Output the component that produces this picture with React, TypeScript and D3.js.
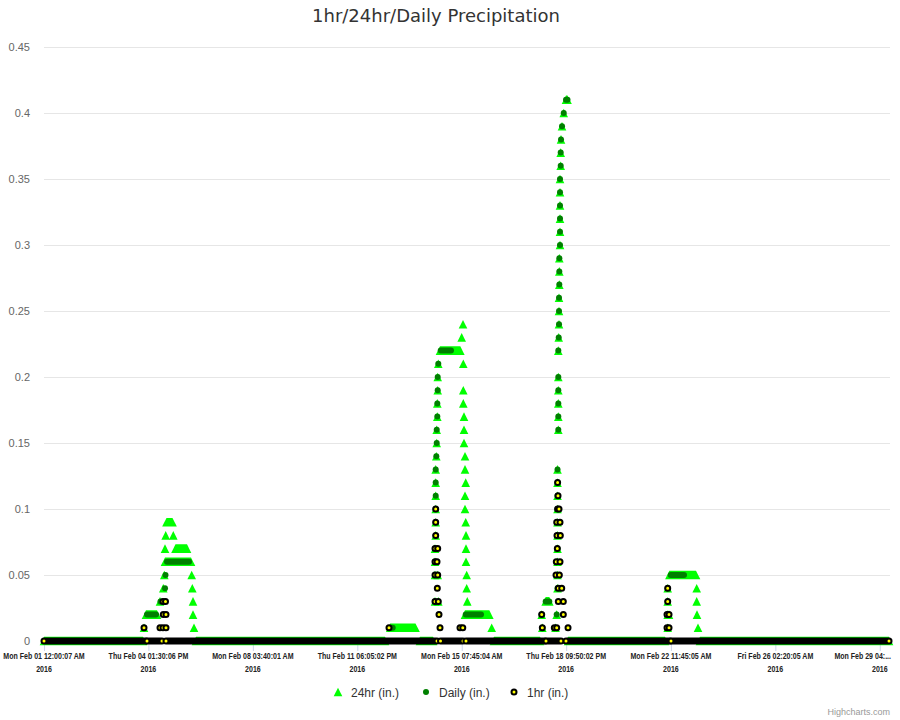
import React from 'react';
import * as d3 from 'd3';

// ---------- data ----------
const titleText = '1hr/24hr/Daily Precipitation';
const tickLabels = [
  'Mon Feb 01 12:00:07 AM',
  'Thu Feb 04 01:30:06 PM',
  'Mon Feb 08 03:40:01 AM',
  'Thu Feb 11 06:05:02 PM',
  'Mon Feb 15 07:45:04 AM',
  'Thu Feb 18 09:50:02 PM',
  'Mon Feb 22 11:45:05 AM',
  'Fri Feb 26 02:20:05 AM',
  'Mon Feb 29 04:...',
];
const tickYear = '2016';
// tick positions, in days since Feb 01 00:00
const tickDays = [0, 3.58, 7.16, 10.74, 14.32, 17.9, 21.49, 25.07, 28.65];
const yTicks = [0, 0.05, 0.1, 0.15, 0.2, 0.25, 0.3, 0.35, 0.4, 0.45];
const yTickLabels = ['0', '0.05', '0.1', '0.15', '0.2', '0.25', '0.3', '0.35', '0.4', '0.45'];
const seriesNames = ['24hr (in.)', 'Daily (in.)', '1hr (in.)'];

// runs of consecutive readings: [startDay, endDay, inches]
type Run = [number, number, number];

const hr24Runs: Run[] = [
  [0, 3.394, 0],
  [3.428, 3.428, 0.01],
  [3.497, 3.874, 0.02],
  [3.976, 3.976, 0.03],
  [4.089, 4.089, 0.04],
  [4.124, 4.124, 0.05],
  [4.148, 5.039, 0.06],
  [4.148, 4.148, 0.07],
  [4.172, 4.172, 0.08],
  [4.199, 4.405, 0.09],
  [4.432, 4.432, 0.08],
  [4.508, 4.902, 0.07],
  [5.063, 5.063, 0.05],
  [5.084, 5.084, 0.04],
  [5.108, 5.108, 0.03],
  [5.108, 5.108, 0.02],
  [5.142, 5.142, 0.01],
  [5.21, 11.689, 0],
  [11.868, 12.735, 0.01],
  [12.889, 13.335, 0],
  [13.403, 13.403, 0.03],
  [13.403, 13.403, 0.05],
  [13.403, 13.403, 0.06],
  [13.403, 13.403, 0.07],
  [13.427, 13.427, 0.08],
  [13.427, 13.427, 0.09],
  [13.427, 13.427, 0.1],
  [13.427, 13.427, 0.11],
  [13.427, 13.427, 0.12],
  [13.427, 13.427, 0.13],
  [13.448, 13.448, 0.14],
  [13.462, 13.462, 0.15],
  [13.462, 13.462, 0.16],
  [13.482, 13.482, 0.17],
  [13.482, 13.482, 0.18],
  [13.496, 13.496, 0.19],
  [13.496, 13.496, 0.2],
  [13.496, 13.496, 0.05],
  [13.516, 13.516, 0.21],
  [13.516, 13.516, 0.03],
  [13.575, 14.271, 0.22],
  [14.318, 14.318, 0.23],
  [14.363, 14.363, 0.24],
  [14.373, 14.373, 0.21],
  [14.373, 14.373, 0.19],
  [14.373, 14.373, 0.18],
  [14.397, 14.397, 0.17],
  [14.397, 14.397, 0.16],
  [14.397, 14.397, 0.15],
  [14.432, 14.432, 0.14],
  [14.432, 14.432, 0.13],
  [14.456, 14.456, 0.12],
  [14.432, 14.432, 0.11],
  [14.432, 14.432, 0.1],
  [14.456, 14.456, 0.09],
  [14.466, 14.466, 0.08],
  [14.466, 14.466, 0.07],
  [14.466, 14.466, 0.06],
  [14.489, 14.489, 0.05],
  [14.489, 14.489, 0.04],
  [14.51, 14.51, 0.03],
  [14.432, 15.265, 0.02],
  [15.347, 15.347, 0.01],
  [15.426, 17.002, 0],
  [17.061, 17.061, 0.02],
  [17.082, 17.082, 0.01],
  [17.197, 17.321, 0.03],
  [17.534, 17.534, 0.01],
  [17.575, 17.575, 0.02],
  [17.603, 17.603, 0.04],
  [17.603, 17.603, 0.05],
  [17.603, 17.603, 0.06],
  [17.603, 17.603, 0.07],
  [17.603, 17.603, 0.08],
  [17.603, 17.603, 0.09],
  [17.603, 17.603, 0.1],
  [17.603, 17.603, 0.11],
  [17.603, 17.603, 0.12],
  [17.603, 17.603, 0.13],
  [17.63, 17.63, 0.16],
  [17.63, 17.63, 0.17],
  [17.63, 17.63, 0.18],
  [17.63, 17.63, 0.19],
  [17.63, 17.63, 0.2],
  [17.63, 17.63, 0.22],
  [17.644, 17.644, 0.23],
  [17.654, 17.654, 0.24],
  [17.654, 17.654, 0.25],
  [17.654, 17.654, 0.26],
  [17.665, 17.665, 0.27],
  [17.665, 17.665, 0.28],
  [17.665, 17.665, 0.29],
  [17.688, 17.688, 0.3],
  [17.688, 17.688, 0.31],
  [17.688, 17.688, 0.32],
  [17.688, 17.688, 0.33],
  [17.688, 17.688, 0.34],
  [17.688, 17.688, 0.35],
  [17.712, 17.712, 0.36],
  [17.712, 17.712, 0.37],
  [17.723, 17.723, 0.38],
  [17.757, 17.757, 0.39],
  [17.816, 17.816, 0.4],
  [17.894, 17.945, 0.41],
  [17.963, 21.288, 0],
  [21.38, 21.38, 0.01],
  [21.38, 21.38, 0.02],
  [21.425, 21.425, 0.02],
  [21.38, 21.38, 0.03],
  [21.38, 21.38, 0.04],
  [21.438, 22.35, 0.05],
  [22.374, 22.374, 0.04],
  [22.374, 22.374, 0.03],
  [22.384, 22.384, 0.02],
  [22.419, 22.419, 0.01],
  [22.487, 28.966, 0],
];

const dailyRuns: Run[] = [
  [0, 3.394, 0],
  [3.428, 3.428, 0.01],
  [3.531, 3.84, 0.02],
  [3.994, 3.994, 0.03],
  [4.148, 4.148, 0.04],
  [4.165, 4.165, 0.05],
  [4.216, 4.971, 0.06],
  [5.039, 11.826, 0],
  [11.885, 11.953, 0.01],
  [12.032, 13.335, 0],
  [13.403, 13.403, 0.03],
  [13.403, 13.403, 0.05],
  [13.403, 13.403, 0.06],
  [13.403, 13.403, 0.07],
  [13.427, 13.427, 0.08],
  [13.427, 13.427, 0.09],
  [13.427, 13.427, 0.1],
  [13.427, 13.427, 0.11],
  [13.427, 13.427, 0.12],
  [13.427, 13.427, 0.13],
  [13.448, 13.448, 0.14],
  [13.462, 13.462, 0.15],
  [13.462, 13.462, 0.16],
  [13.482, 13.482, 0.17],
  [13.482, 13.482, 0.18],
  [13.496, 13.496, 0.19],
  [13.496, 13.496, 0.2],
  [13.516, 13.516, 0.21],
  [13.599, 13.952, 0.22],
  [14.02, 14.26, 0],
  [14.318, 14.318, 0.01],
  [14.456, 14.98, 0.02],
  [15.151, 17.002, 0],
  [17.061, 17.061, 0.02],
  [17.082, 17.082, 0.01],
  [17.197, 17.321, 0.03],
  [17.575, 17.575, 0.02],
  [17.603, 17.603, 0.04],
  [17.603, 17.603, 0.05],
  [17.603, 17.603, 0.06],
  [17.603, 17.603, 0.07],
  [17.603, 17.603, 0.08],
  [17.603, 17.603, 0.09],
  [17.603, 17.603, 0.1],
  [17.603, 17.603, 0.11],
  [17.603, 17.603, 0.12],
  [17.603, 17.603, 0.13],
  [17.63, 17.63, 0.16],
  [17.63, 17.63, 0.17],
  [17.63, 17.63, 0.18],
  [17.63, 17.63, 0.19],
  [17.63, 17.63, 0.2],
  [17.63, 17.63, 0.22],
  [17.644, 17.644, 0.23],
  [17.654, 17.654, 0.24],
  [17.654, 17.654, 0.25],
  [17.654, 17.654, 0.26],
  [17.665, 17.665, 0.27],
  [17.665, 17.665, 0.28],
  [17.665, 17.665, 0.29],
  [17.688, 17.688, 0.3],
  [17.688, 17.688, 0.31],
  [17.688, 17.688, 0.32],
  [17.688, 17.688, 0.33],
  [17.688, 17.688, 0.34],
  [17.688, 17.688, 0.35],
  [17.712, 17.712, 0.36],
  [17.712, 17.712, 0.37],
  [17.723, 17.723, 0.38],
  [17.757, 17.757, 0.39],
  [17.816, 17.816, 0.4],
  [17.894, 17.945, 0.41],
  [17.963, 21.288, 0],
  [21.38, 21.38, 0.01],
  [21.38, 21.38, 0.02],
  [21.38, 21.38, 0.03],
  [21.38, 21.38, 0.04],
  [21.483, 21.939, 0.05],
  [22.076, 28.966, 0],
];

const hr1Runs: Run[] = [
  [0, 3.497, 0],
  [3.428, 3.428, 0.01],
  [3.531, 4.045, 0],
  [3.976, 3.976, 0.01],
  [4.079, 4.079, 0.01],
  [4.079, 4.079, 0.03],
  [4.089, 4.089, 0.02],
  [4.165, 4.165, 0.03],
  [4.182, 4.182, 0.01],
  [4.182, 4.182, 0.02],
  [4.182, 13.472, 0],
  [11.826, 11.826, 0.01],
  [13.403, 13.403, 0.03],
  [13.403, 13.403, 0.05],
  [13.403, 13.403, 0.06],
  [13.403, 13.403, 0.07],
  [13.427, 13.427, 0.08],
  [13.427, 13.427, 0.09],
  [13.427, 13.427, 0.1],
  [13.472, 13.472, 0.06],
  [13.482, 13.482, 0.04],
  [13.496, 13.496, 0.05],
  [13.496, 13.496, 0.07],
  [13.516, 13.516, 0.03],
  [13.54, 13.54, 0.02],
  [13.575, 13.575, 0.01],
  [13.592, 14.363, 0],
  [14.26, 14.26, 0.01],
  [14.355, 14.355, 0.01],
  [14.466, 17.174, 0],
  [17.061, 17.061, 0.02],
  [17.082, 17.082, 0.01],
  [17.209, 17.723, 0],
  [17.493, 17.493, 0.01],
  [17.551, 17.551, 0.05],
  [17.561, 17.561, 0.06],
  [17.575, 17.575, 0.01],
  [17.575, 17.575, 0.09],
  [17.585, 17.585, 0.08],
  [17.596, 17.596, 0.07],
  [17.606, 17.606, 0.1],
  [17.606, 17.606, 0.12],
  [17.62, 17.62, 0.11],
  [17.63, 17.63, 0.03],
  [17.63, 17.63, 0.04],
  [17.654, 17.654, 0.1],
  [17.665, 17.665, 0.05],
  [17.688, 17.688, 0.06],
  [17.688, 17.688, 0.09],
  [17.699, 17.699, 0.08],
  [17.747, 17.747, 0.04],
  [17.802, 17.802, 0.02],
  [17.802, 17.802, 0.03],
  [17.894, 21.459, 0],
  [17.963, 17.963, 0.01],
  [21.356, 21.356, 0.01],
  [21.356, 21.356, 0.02],
  [21.38, 21.38, 0.03],
  [21.38, 21.38, 0.04],
  [21.425, 21.425, 0.01],
  [21.425, 21.425, 0.02],
  [21.493, 28.966, 0],
];

// ---------- style ----------
const W = 900;
const H = 720;
const LIME = '#00ff00';
const DARK = '#008000';
const YELLOW = '#ffff00';
const SANS = "'Liberation Sans', Arial, Helvetica, sans-serif";
const TITLE_FONT = "'DejaVu Sans', Verdana, sans-serif";
const TRI = 4.3; // triangle half size
const DAILY_R = 3;
const HR1_R = 2.5;
const HR1_SW = 2;

const x = d3.scaleLinear().domain([0, 29]).range([44, 890]);
const y = d3.scaleLinear().domain([0, 0.45]).range([641, 47]);

function Tri({ cx, cy, cx2 }: { cx: number; cy: number; cx2?: number }) {
  const b = cx2 === undefined ? cx : cx2;
  const pts = [
    [cx, cy - TRI],
    [b, cy - TRI],
    [b + TRI, cy + TRI],
    [cx - TRI, cy + TRI],
  ];
  return <polygon points={pts.map((p) => p.join(',')).join(' ')} fill={LIME} />;
}

function DailyMark({ x1, x2, cy }: { x1: number; x2: number; cy: number }) {
  if (x2 - x1 < 0.01) return <circle cx={x1} cy={cy} r={DAILY_R} fill={DARK} />;
  return (
    <line x1={x1} x2={x2} y1={cy} y2={cy} stroke={DARK} strokeWidth={DAILY_R * 2} strokeLinecap="round" />
  );
}

function Hr1Mark({ x1, x2, cy }: { x1: number; x2: number; cy: number }) {
  if (x2 - x1 < 0.01)
    return <circle cx={x1} cy={cy} r={HR1_R} fill={YELLOW} stroke="#000" strokeWidth={HR1_SW} />;
  return (
    <g>
      <line
        x1={x1}
        x2={x2}
        y1={cy}
        y2={cy}
        stroke="#000"
        strokeWidth={HR1_R * 2 + HR1_SW}
        strokeLinecap="round"
      />
      <circle cx={x1} cy={cy} r={HR1_R - HR1_SW / 2} fill={YELLOW} />
      <circle cx={x2} cy={cy} r={HR1_R - HR1_SW / 2} fill={YELLOW} />
    </g>
  );
}

// narrow bold tick label (condensed horizontally)
function TickText({ tx, ty, text, anchor }: { tx: number; ty: number; text: string; anchor: string }) {
  return (
    <text
      transform={`translate(${tx},${ty}) scale(0.8,1)`}
      x={0}
      y={0}
      textAnchor={anchor}
      fontSize={8.8}
      fontWeight="bold"
      fill="#222"
    >
      {text}
    </text>
  );
}

export default function App() {
  const plotLeft = x.range()[0];
  const plotRight = x.range()[1];
  const yBase = y(0);

  const legendItems = [
    { name: seriesNames[0], mx: 338 },
    { name: seriesNames[1], mx: 426 },
    { name: seriesNames[2], mx: 514 },
  ];
  const legendY = 692;

  return (
    <svg
      width={W}
      height={H}
      style={{ position: 'absolute', left: 0, top: 0, background: '#fff' }}
      fontFamily={SANS}
    >
      <rect x={0} y={0} width={W} height={H} fill="#fff" />
      <text x={436} y={22} textAnchor="middle" fontSize={18} fill="#333333" fontFamily={TITLE_FONT}>
        {titleText}
      </text>

      {/* grid */}
      {yTicks.map((t, i) => (
        <g key={'g' + i}>
          <line x1={plotLeft} x2={plotRight} y1={y(t) + 0.5} y2={y(t) + 0.5} stroke="#e6e6e6" strokeWidth={1} />
          <text x={30} y={y(t) + 4} textAnchor="end" fontSize={11} fill="#666666">
            {yTickLabels[i]}
          </text>
        </g>
      ))}

      {/* x axis */}
      <line x1={plotLeft} x2={plotRight} y1={yBase + 0.5} y2={yBase + 0.5} stroke="#ccd6eb" />
      {tickDays.map((d, i) => {
        const last = i === tickDays.length - 1;
        const tx = last ? plotRight + 1 : x(d);
        const anchor = last ? 'end' : 'middle';
        return (
          <g key={'t' + i}>
            <line x1={x(d) + 0.5} x2={x(d) + 0.5} y1={yBase} y2={yBase + 10} stroke="#ccd6eb" />
            <TickText tx={tx} ty={659} text={tickLabels[i]} anchor={anchor} />
            <TickText tx={x(d)} ty={671.5} text={tickYear} anchor="middle" />
          </g>
        );
      })}

      {/* series: 24hr */}
      <g>
        {hr24Runs.map((r, i) => (
          <Tri key={'a' + i} cx={x(r[0])} cx2={x(r[1])} cy={y(r[2])} />
        ))}
      </g>
      {/* series: Daily */}
      <g>
        {dailyRuns.map((r, i) => (
          <DailyMark key={'b' + i} x1={x(r[0])} x2={x(r[1])} cy={y(r[2])} />
        ))}
      </g>
      {/* series: 1hr */}
      <g>
        {hr1Runs.map((r, i) => (
          <Hr1Mark key={'c' + i} x1={x(r[0])} x2={x(r[1])} cy={y(r[2])} />
        ))}
      </g>

      {/* legend */}
      <g>
        <Tri cx={legendItems[0].mx} cy={legendY} />
        <circle cx={legendItems[1].mx} cy={legendY} r={DAILY_R} fill={DARK} />
        <circle cx={legendItems[2].mx} cy={legendY} r={HR1_R} fill={YELLOW} stroke="#000" strokeWidth={HR1_SW} />
        {legendItems.map((it, i) => (
          <text key={'l' + i} x={it.mx + 13} y={legendY + 4.5} fontSize={12} fill="#333333">
            {it.name}
          </text>
        ))}
      </g>

      <text x={890} y={715} textAnchor="end" fontSize={9} fill="#999999">
        Highcharts.com
      </text>
    </svg>
  );
}
